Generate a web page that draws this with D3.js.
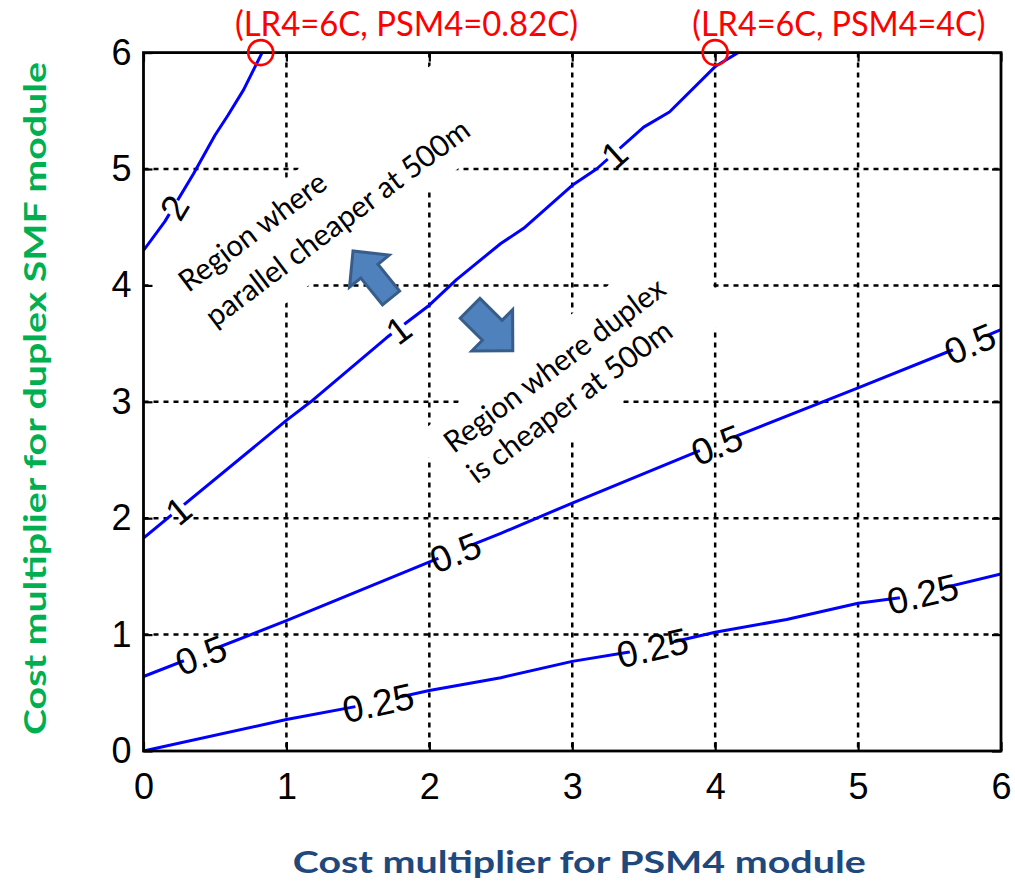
<!DOCTYPE html>
<html>
<head>
<meta charset="utf-8">
<script src="https://cdn.jsdelivr.net/npm/d3@7/dist/d3.min.js"></script>
<style>
  html, body { margin: 0; padding: 0; background: #ffffff; }
  svg { display: block; }
</style>
</head>
<body>
<svg id="chart" width="1015" height="888"></svg>
<script>
// Axis ticks
const xTicks = [0, 1, 2, 3, 4, 5, 6];
const yTicks = [0, 1, 2, 3, 4, 5, 6];

// Contour of cost ratio = 2
const level2X = [0, 0.15, 0.35, 0.5, 0.59, 0.70, 0.83];
const level2Y = [4.3, 4.55, 4.96, 5.29, 5.46, 5.68, 6.0];
// Contour of cost ratio = 1 (break-even)
const level1X = [0, 1.0, 1.17, 1.7, 2.0, 2.19, 2.5, 2.66, 3.0, 3.17, 3.5, 3.68, 4.0, 4.16];
const level1Y = [1.83, 2.84, 3.0, 3.55, 3.83, 4.05, 4.36, 4.49, 4.86, 5.0, 5.36, 5.49, 5.88, 6.0];
// Contour of cost ratio = 0.5
const level05X = [0, 1, 2.07, 2.5, 3, 3.87, 5, 5.69, 6];
const level05Y = [0.64, 1.12, 1.66, 1.87, 2.13, 2.57, 3.12, 3.46, 3.62];
// Contour of cost ratio = 0.25
const level025X = [0, 1, 1.52, 2, 2.5, 3, 3.4, 4, 4.5, 5, 5.32, 6];
const level025Y = [0, 0.27, 0.39, 0.52, 0.63, 0.77, 0.85, 1.02, 1.13, 1.27, 1.32, 1.52];

// Inline contour labels: text and the PSM4 positions where they sit
const contourNames = ["2", "1", "0.5", "0.25"];
const labelPositions2 = [0.21];
const labelPositions1 = [0.24, 1.78, 3.29];
const labelPositions05 = [0.40, 2.18, 4.01, 5.78];
const labelPositions025 = [1.64, 3.56, 5.45];

// Break-even points marked at the top edge
const markPsm4 = [0.82, 4];
const markSmf = [6, 6];
const markText = ["(LR4=6C, PSM4=0.82C)", "(LR4=6C, PSM4=4C)"];
const markTextStart = [0.64, 3.84];
const markTextWidth = [343, 293];

// Region notes
const noteLines1 = ["Region where", "parallel cheaper at 500m"];
const noteLines2 = ["Region where duplex", "is cheaper at 500m"];

const W = 1015, H = 888;
const plot = { left: 143.5, right: 1001, top: 52.6, bottom: 751 };

const svg = d3.select("#chart");
const x = d3.scaleLinear().domain([0, 6]).range([plot.left, plot.right]);
const y = d3.scaleLinear().domain([0, 6]).range([plot.bottom, plot.top]);

svg.append("rect").attr("width", W).attr("height", H).attr("fill", "#ffffff");

// ---- dotted grid ----
const grid = svg.append("g").attr("stroke", "#000").attr("stroke-width", 2.5)
  .attr("stroke-dasharray", "5,5");
grid.selectAll("line.gx").data(xTicks.slice(1, -1)).join("line")
  .attr("x1", d => x(d)).attr("x2", d => x(d))
  .attr("y1", plot.top).attr("y2", plot.bottom);
grid.selectAll("line.gy").data(yTicks.slice(1, -1)).join("line")
  .attr("y1", d => y(d)).attr("y2", d => y(d))
  .attr("x1", plot.left).attr("x2", plot.right);

// ---- white note boxes (rotated) ----
const noteAngle = -38;
const noteBoxes = [
  { cx: 1.013, cy: 4.398, a0: -150, a1: 230, h: 98 },
  { cx: 2.929, cy: 3.144, a0: -150, a1: 180, h: 100 }
];
svg.append("g").selectAll("rect").data(noteBoxes).join("rect")
  .attr("transform", d => `translate(${x(d.cx)},${y(d.cy)}) rotate(${noteAngle})`)
  .attr("x", d => d.a0).attr("y", d => -d.h / 2)
  .attr("width", d => d.a1 - d.a0).attr("height", d => d.h)
  .attr("fill", "#ffffff");

// ---- contours ----
function interp(xs, ys, v) {
  for (let i = 0; i < xs.length - 1; i++) {
    if (v >= xs[i] && v <= xs[i + 1]) {
      const t = (v - xs[i]) / (xs[i + 1] - xs[i]);
      return { y: ys[i] + t * (ys[i + 1] - ys[i]), i };
    }
  }
  return { y: ys[ys.length - 1], i: xs.length - 2 };
}

const contours = [
  { name: contourNames[0], xs: level2X, ys: level2Y, at: labelPositions2, gap: 16 },
  { name: contourNames[1], xs: level1X, ys: level1Y, at: labelPositions1, gap: 16 },
  { name: contourNames[2], xs: level05X, ys: level05Y, at: labelPositions05, gap: 36 },
  { name: contourNames[3], xs: level025X, ys: level025Y, at: labelPositions025, gap: 46 }
];

const labels = [];
contours.forEach(c => {
  c.at.forEach(v => {
    const r = interp(c.xs, c.ys, v);
    const i = r.i;
    const ang = Math.atan2(y(c.ys[i + 1]) - y(c.ys[i]), x(c.xs[i + 1]) - x(c.xs[i])) * 180 / Math.PI;
    labels.push({ text: c.name, px: x(v), py: y(r.y), ang, gap: c.gap });
  });
});

const defs = svg.append("defs");
const mask = defs.append("mask").attr("id", "labelGaps")
  .attr("maskUnits", "userSpaceOnUse").attr("x", 0).attr("y", 0)
  .attr("width", W).attr("height", H);
mask.append("rect").attr("width", W).attr("height", H).attr("fill", "#fff");
mask.selectAll("rect.gap").data(labels).join("rect").attr("class", "gap")
  .attr("transform", d => `translate(${d.px},${d.py}) rotate(${d.ang})`)
  .attr("x", d => -d.gap / 2).attr("y", -20).attr("width", d => d.gap).attr("height", 40)
  .attr("fill", "#000");

defs.append("clipPath").attr("id", "plotClip").append("rect")
  .attr("x", plot.left).attr("y", plot.top)
  .attr("width", plot.right - plot.left).attr("height", plot.bottom - plot.top);

const line = d3.line().x(d => x(d[0])).y(d => y(d[1]));
svg.append("g").attr("mask", "url(#labelGaps)").attr("clip-path", "url(#plotClip)")
  .selectAll("path").data(contours).join("path")
  .attr("d", c => line(c.xs.map((v, i) => [v, c.ys[i]])))
  .attr("fill", "none").attr("stroke", "#0000ff").attr("stroke-width", 3)
  .attr("stroke-linejoin", "round");

svg.append("g").selectAll("text").data(labels).join("text")
  .attr("transform", d => `translate(${d.px},${d.py}) rotate(${d.ang})`)
  .attr("text-anchor", "middle").attr("dy", "0.38em")
  .attr("font-family", "'Liberation Sans', Arial, sans-serif")
  .attr("font-size", 37).attr("fill", "#000")
  .text(d => d.text);

// ---- block arrows ----
function blockArrow(tip, tail, shaftW, headW, headL) {
  const tx = x(tip[0]), ty = y(tip[1]), bx = x(tail[0]), by = y(tail[1]);
  const len = Math.hypot(tx - bx, ty - by);
  const ang = Math.atan2(ty - by, tx - bx) * 180 / Math.PI;
  const s = shaftW / 2, hw = headW / 2, hl = len - headL;
  const pts = [[0, -s], [hl, -s], [hl, -hw], [len, 0], [hl, hw], [hl, s], [0, s]];
  return { d: "M" + pts.map(p => p.join(",")).join("L") + "Z", bx, by, ang };
}
const arrows = [
  blockArrow([1.466, 4.296], [1.732, 3.892], 22, 51, 26),
  blockArrow([2.584, 3.439], [2.285, 3.803], 28, 58, 29)
];
svg.append("g").selectAll("path").data(arrows).join("path")
  .attr("transform", d => `translate(${d.bx},${d.by}) rotate(${d.ang})`)
  .attr("d", d => d.d)
  .attr("fill", "#4f81bd").attr("stroke", "#385d8a").attr("stroke-width", 3)
  .attr("stroke-linejoin", "miter");

// ---- note text ----
const notes = [
  { lines: noteLines1, box: noteBoxes[0], start: -112, base: [-17, 27], len: [176, 322] },
  { lines: noteLines2, box: noteBoxes[1], start: -128, base: [-10, 28], len: [268, 248] }
];
notes.forEach(n => {
  const g = svg.append("g")
    .attr("transform", `translate(${x(n.box.cx)},${y(n.box.cy)}) rotate(${noteAngle + 1})`);
  g.selectAll("text").data(n.lines).join("text")
    .attr("x", n.start).attr("y", (d, i) => n.base[i])
    .attr("font-family", "Lato, 'Open Sans', sans-serif")
    .attr("font-size", 30).attr("fill", "#000")
    .attr("textLength", (d, i) => n.len[i]).attr("lengthAdjust", "spacingAndGlyphs")
    .text(d => d);
});

// ---- axes box and ticks ----
const axes = svg.append("g");
axes.append("rect")
  .attr("x", plot.left).attr("y", plot.top)
  .attr("width", plot.right - plot.left).attr("height", plot.bottom - plot.top)
  .attr("fill", "none").attr("stroke", "#000").attr("stroke-width", 2.8);

const tickLen = 9;
const bottomAxis = d3.axisBottom(x).tickValues(xTicks).tickSize(-tickLen).tickPadding(22).tickFormat(d3.format("d"));
const leftAxis = d3.axisLeft(y).tickValues(yTicks).tickSize(-tickLen).tickPadding(12).tickFormat(d3.format("d"));
const topAxis = d3.axisTop(x).tickValues(xTicks).tickSize(-tickLen).tickFormat("");
const rightAxis = d3.axisRight(y).tickValues(yTicks).tickSize(-tickLen).tickFormat("");

function styleAxis(g) {
  g.select(".domain").remove();
  g.selectAll(".tick line").attr("stroke", "#000").attr("stroke-width", 2.2);
  g.selectAll(".tick text").attr("fill", "#000")
    .attr("font-family", "'Liberation Sans', Arial, sans-serif").attr("font-size", 36);
}
axes.append("g").attr("transform", `translate(0,${plot.bottom})`).call(bottomAxis).call(styleAxis);
axes.append("g").attr("transform", `translate(${plot.left},0)`).call(leftAxis).call(styleAxis);
axes.append("g").attr("transform", `translate(0,${plot.top})`).call(topAxis).call(styleAxis);
axes.append("g").attr("transform", `translate(${plot.right},0)`).call(rightAxis).call(styleAxis);

// ---- break-even markers ----
svg.append("g").selectAll("circle").data(markPsm4).join("circle")
  .attr("cx", d => x(d)).attr("cy", (d, i) => y(markSmf[i]))
  .attr("r", 12.5).attr("fill", "none").attr("stroke", "#ff0000").attr("stroke-width", 2.6);
svg.append("g").selectAll("text").data(markText).join("text")
  .attr("x", (d, i) => x(markTextStart[i])).attr("y", 36)
  .attr("font-family", "Lato, 'Open Sans', sans-serif").attr("font-size", 34)
  .attr("fill", "#ff0000")
  .attr("textLength", (d, i) => markTextWidth[i]).attr("lengthAdjust", "spacingAndGlyphs")
  .text(d => d);

// ---- axis titles ----
svg.append("text")
  .attr("x", (plot.left + plot.right) / 2 + 7).attr("y", 873)
  .attr("text-anchor", "middle")
  .attr("font-family", "Lato, 'Open Sans', sans-serif").attr("font-weight", "bold")
  .attr("font-size", 31).attr("fill", "#1f497d")
  .attr("textLength", 573).attr("lengthAdjust", "spacingAndGlyphs")
  .text("Cost multiplier for PSM4 module");

svg.append("text")
  .attr("transform", `translate(46,${(62 + 735) / 2}) rotate(-90)`)
  .attr("text-anchor", "middle")
  .attr("font-family", "Lato, 'Open Sans', sans-serif").attr("font-weight", "bold")
  .attr("font-size", 31).attr("fill", "#00b050")
  .attr("textLength", 673).attr("lengthAdjust", "spacingAndGlyphs")
  .text("Cost multiplier for duplex SMF module");
</script>
</body>
</html>
